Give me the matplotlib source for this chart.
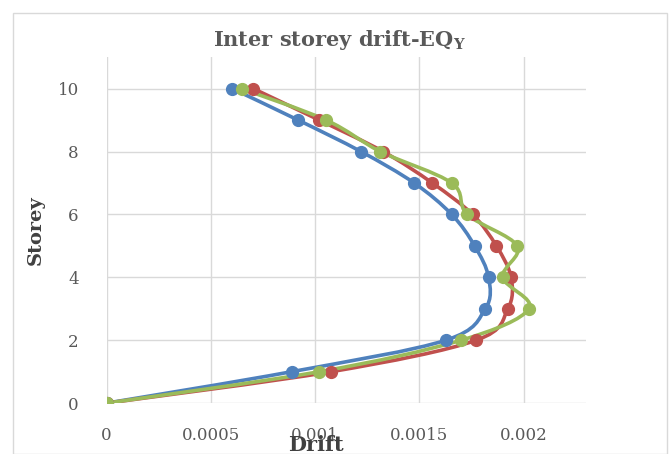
import matplotlib
matplotlib.use("Agg")
import matplotlib.pyplot as plt
from matplotlib.path import Path
from matplotlib.patches import PathPatch, Rectangle
import numpy as np

# wider serif, the reference text looks horizontally stretched
plt.rcParams['font.family'] = ['DejaVu Serif']
plt.rcParams['mathtext.fontset'] = 'custom'
plt.rcParams['mathtext.rm'] = 'DejaVu Serif:bold'

storey = [0, 1, 2, 3, 4, 5, 6, 7, 8, 9, 10]
drift_blue = [0, 0.000887, 0.001626, 0.001816, 0.001832, 0.001765, 0.001655,
              0.001475, 0.00122, 0.000919, 0.000603]
drift_red = [0, 0.001077, 0.001772, 0.001924, 0.00194, 0.001869, 0.001755,
             0.001562, 0.001326, 0.00102, 0.000704]
drift_green = [0, 0.00102, 0.0017, 0.002025, 0.0019, 0.001969, 0.00173,
               0.001655, 0.001313, 0.001053, 0.000648]

xticks = [0, 0.0005, 0.001, 0.0015, 0.002]
xtick_labels = ['0', '0.0005', '0.001', '0.0015', '0.002']
yticks = [0, 2, 4, 6, 8, 10]

series = [(drift_blue, '#4F81BD'), (drift_red, '#C0504D'), (drift_green, '#9BBB59')]


def smooth_path(xs, ys):
    # bezier through the points, like excel "smoothed line"
    pts = np.column_stack([xs, ys])
    n = len(pts)
    verts = [pts[0]]
    codes = [Path.MOVETO]
    for i in range(n - 1):
        p0 = pts[i - 1] if i > 0 else pts[i]
        p1 = pts[i]
        p2 = pts[i + 1]
        p3 = pts[i + 2] if i + 2 < n else pts[i + 1]
        c1 = p1 + (p2 - p0) / 6.0
        c2 = p2 - (p3 - p1) / 6.0
        verts += [c1, c2, p2]
        codes += [Path.CURVE4] * 3
    return Path(verts, codes)


fig = plt.figure(figsize=(6.7, 4.54), dpi=100)
ax = fig.add_axes([0.159, 0.112, 0.716, 0.762])

for xs, col in series:
    patch = PathPatch(smooth_path(xs, storey), facecolor='none', edgecolor=col,
                      lw=2.6, zorder=3)
    ax.add_patch(patch)
    ax.plot(xs, storey, 'o', color=col, ms=8.5, zorder=4)

ax.set_xlim(0, 0.0023)
ax.set_ylim(0, 11)
ax.set_xticks(xticks)
ax.set_xticklabels(xtick_labels)
ax.set_yticks(yticks)
ax.tick_params(length=0, labelsize=12, labelcolor='#595959')
ax.tick_params(axis='x', pad=17)
ax.tick_params(axis='y', pad=20)
ax.grid(True, color='#D9D9D9', lw=1)
ax.set_axisbelow(True)
for s in ax.spines.values():
    s.set_visible(False)

# drift label sits on top of the tick labels, as in the original
ax.set_xlabel('Drift', fontsize=15, fontweight='bold', color='#404040')
ax.xaxis.set_label_coords(0.437, -0.093)
ax.set_ylabel('Storey', fontsize=14, fontweight='bold', color='#404040')
ax.yaxis.set_label_coords(-0.129, 0.5)

fig.text(339 / 670, 1 - 40 / 454, r'Inter storey drift-EQ$_\mathrm{Y}$',
         fontsize=15, fontweight='bold', color='#595959', ha='center', va='center')

fig.patches.append(Rectangle((13 / 670, 0), 654 / 670, 1 - 13 / 454,
                             transform=fig.transFigure, fill=False,
                             edgecolor='#D9D9D9', lw=1))

fig.savefig('out.png', dpi=100)
